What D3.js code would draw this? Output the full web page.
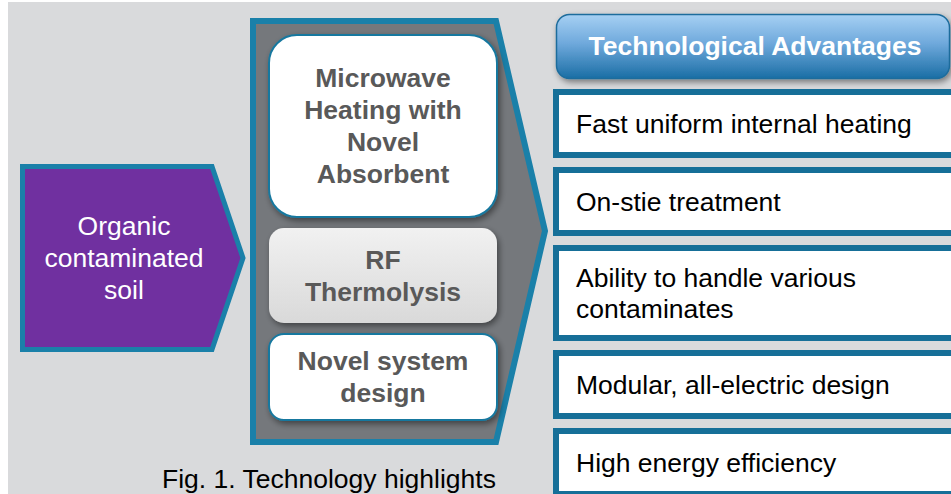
<!DOCTYPE html>
<html><head><meta charset="utf-8">
<script src="https://cdn.jsdelivr.net/npm/d3@7"></script>
<style>
html,body{margin:0;padding:0;background:#fff;overflow:hidden}
svg{display:block;font-family:Arial,"Liberation Sans",sans-serif}
</style></head>
<body>
<svg id="c" width="951" height="494"></svg>
<script>
// ---- content ----
const inputLabel = ["Organic", "contaminated", "soil"];
const techBoxes = [
  ["Microwave", "Heating with", "Novel", "Absorbent"],
  ["RF", "Thermolysis"],
  ["Novel system", "design"]
];
const techStyles = ["white", "gray", "white"];
const advantagesTitle = "Technological Advantages";
const advantages = [
  ["Fast uniform internal heating"],
  ["On-stie treatment"],
  ["Ability to handle various", "contaminates"],
  ["Modular, all-electric design"],
  ["High energy efficiency"]
];
const caption = "Fig. 1. Technology highlights";

// ---- drawing ----
const FS = 26.5;
const svg = d3.select("#c");
const defs = svg.append("defs");
const sh = defs.append("filter").attr("id","sh").attr("x","-10%").attr("y","-10%").attr("width","130%").attr("height","140%");
sh.append("feDropShadow").attr("dx",2).attr("dy",3).attr("stdDeviation",3).attr("flood-color","#000").attr("flood-opacity",0.45);
const g1 = defs.append("linearGradient").attr("id","hdr").attr("x1",0).attr("y1",0).attr("x2",0).attr("y2",1);
g1.append("stop").attr("offset","0%").attr("stop-color","#a6d0f3");
g1.append("stop").attr("offset","45%").attr("stop-color","#6fa9dc");
g1.append("stop").attr("offset","100%").attr("stop-color","#1a6ea5");
const g2 = defs.append("linearGradient").attr("id","gry").attr("x1",0).attr("y1",0).attr("x2",0).attr("y2",1);
g2.append("stop").attr("offset","0%").attr("stop-color","#f1f1f1");
g2.append("stop").attr("offset","100%").attr("stop-color","#d9d9d9");

// background
svg.append("rect").attr("x",8).attr("y",2).attr("width",943).attr("height",492).attr("fill","#d9dadc");

const teal = "#1a80a9";
const line = d3.line();

// input pentagon
svg.append("path")
  .attr("d", line([[22.5,166.5],[212,166.5],[243,258],[212,349.5],[22.5,349.5]]) + "Z")
  .attr("fill","#7030a0").attr("stroke",teal).attr("stroke-width",5).attr("stroke-linejoin","miter");
const lh = 32;
const inY = d3.scaleLinear().domain([0, inputLabel.length-1]).range([235, 235 + lh*(inputLabel.length-1)]);
svg.append("g").selectAll("text").data(inputLabel).join("text")
  .attr("x",124).attr("y",(d,i)=>inY(i)).attr("text-anchor","middle")
  .attr("fill","#fff").attr("font-size",FS).text(d=>d);

// technology chevron
svg.append("path")
  .attr("d", line([[253,21],[496,21],[545,231],[496,442],[253,442]]) + "Z")
  .attr("fill","#75787c").attr("stroke",teal).attr("stroke-width",6).attr("stroke-linejoin","miter");

const techLayout = [
  {y:35, h:182, r:28},
  {y:228, h:95, r:15},
  {y:334, h:86, r:15}
];
const tg = svg.append("g").selectAll("g").data(techBoxes).join("g");
tg.append("rect")
  .attr("x",269).attr("width",228)
  .attr("y",(d,i)=>techLayout[i].y).attr("height",(d,i)=>techLayout[i].h)
  .attr("rx",(d,i)=>techLayout[i].r)
  .attr("fill",(d,i)=>techStyles[i]==="gray" ? "url(#gry)" : "#fff")
  .attr("stroke",(d,i)=>techStyles[i]==="gray" ? "none" : "#17789f")
  .attr("stroke-width",2)
  .attr("filter","url(#sh)");
tg.each(function(lines,i){
  const L = techLayout[i];
  const n = lines.length;
  const mid = L.y + L.h/2;
  const first = mid - (n-1)*lh/2 + 9;
  d3.select(this).selectAll("text").data(lines).join("text")
    .attr("x",383).attr("y",(d,j)=>first + j*lh).attr("text-anchor","middle")
    .attr("fill","#595959").attr("font-weight","bold").attr("font-size",FS).text(d=>d);
});

// header
svg.append("rect").attr("x",556.5).attr("y",14.5).attr("width",393).attr("height",64).attr("rx",13)
  .attr("fill","url(#hdr)").attr("stroke","#1d6c9c").attr("stroke-width",1.5).attr("filter","url(#sh)");
svg.append("text").attr("x",755).attr("y",55).attr("text-anchor","middle")
  .attr("fill","#fff").attr("font-weight","bold").attr("font-size",FS).text(advantagesTitle);

// advantage boxes
let boxTop = 89;
const advLayout = advantages.map(lines => {
  const h = 69 + (lines.length-1)*27;
  const o = {y: boxTop, h: h};
  boxTop += h + 9;
  return o;
});
const ag = svg.append("g").selectAll("g").data(advantages).join("g");
ag.append("rect")
  .attr("x",556).attr("width",420)
  .attr("y",(d,i)=>advLayout[i].y+3).attr("height",(d,i)=>advLayout[i].h-6)
  .attr("fill","#fff").attr("stroke","#166f98").attr("stroke-width",6);
ag.each(function(lines,i){
  const L = advLayout[i];
  const n = lines.length;
  const mid = L.y + L.h/2;
  const first = mid - (n-1)*31/2 + 9;
  d3.select(this).selectAll("text").data(lines).join("text")
    .attr("x",576).attr("y",(d,j)=>first + j*31)
    .attr("fill","#000").attr("font-size",FS).text(d=>d);
});

// caption
svg.append("text").attr("x",162).attr("y",488).attr("fill","#000").attr("font-size",FS).text(caption);
</script>
</body></html>
